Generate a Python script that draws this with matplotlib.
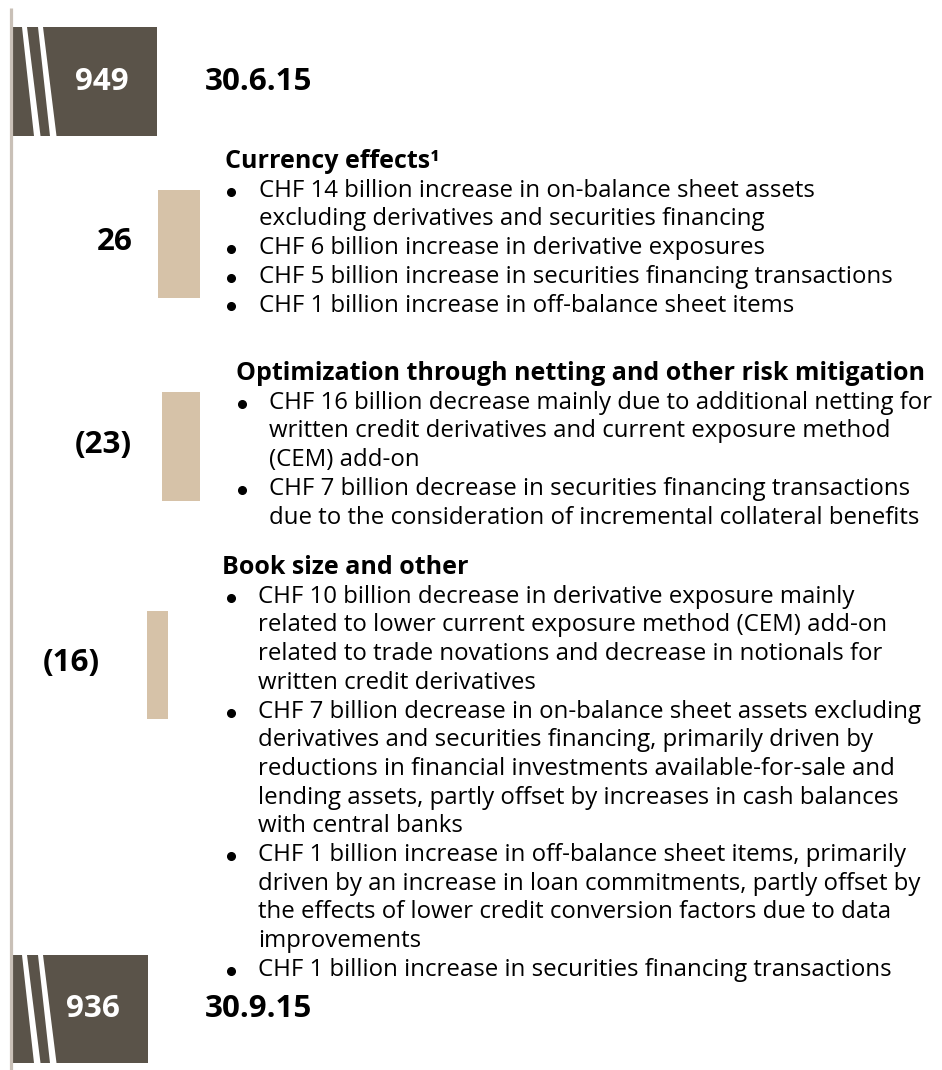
import matplotlib.pyplot as plt
import matplotlib.patches as patches

plt.rcParams['font.family'] = ['Open Sans', 'DejaVu Sans']

# data
totals = [949, 936]
total_dates = ['30.6.15', '30.9.15']
change_values = [26, -23, -16]
headings = ['Currency effects\u00b9',
            'Optimization through netting and other risk mitigation',
            'Book size and other']
bullets = [
    [['CHF 14 billion increase in on-balance sheet assets',
      'excluding derivatives and securities financing'],
     ['CHF 6 billion increase in derivative exposures'],
     ['CHF 5 billion increase in securities financing transactions'],
     ['CHF 1 billion increase in off-balance sheet items']],
    [['CHF 16 billion decrease mainly due to additional netting for',
      'written credit derivatives and current exposure method',
      '(CEM) add-on'],
     ['CHF 7 billion decrease in securities financing transactions',
      'due to the consideration of incremental collateral benefits']],
    [['CHF 10 billion decrease in derivative exposure mainly',
      'related to lower current exposure method (CEM) add-on',
      'related to trade novations and decrease in notionals for',
      'written credit derivatives'],
     ['CHF 7 billion decrease in on-balance sheet assets excluding',
      'derivatives and securities financing, primarily driven by',
      'reductions in financial investments available-for-sale and',
      'lending assets, partly offset by increases in cash balances',
      'with central banks'],
     ['CHF 1 billion increase in off-balance sheet items, primarily',
      'driven by an increase in loan commitments, partly offset by',
      'the effects of lower credit conversion factors due to data',
      'improvements'],
     ['CHF 1 billion increase in securities financing transactions']],
]

# layout (pixels)
box_color = '#5a5349'
bar_color = '#d6c2a8'
line_color = '#c9c0b7'
box_x = [12, 12]
box_w = [145, 136]
box_top = [27, 955]
box_h = [109, 108]
bar_left = [158, 162, 147]
bar_w = [42, 38, 21]
bar_top = [190, 392, 611]
bar_h = [108, 109, 108]
label_x = [115, 103, 71]
head_x = [225, 236, 222]
head_y = [162, 374, 568]
dot_x = [231, 242, 231]
text_x = [259, 269, 258]
pitch = 28.7
body_size = 17.3
head_size = 18.0
big_size = 22.6

fig = plt.figure(figsize=(9.42, 10.70), dpi=100)
ax = fig.add_axes([0, 0, 1, 1])
ax.set_xlim(0, 942)
ax.set_ylim(1070, 0)
ax.axis('off')

# vertical rule on the left
ax.plot([11, 11], [8, 1070], color=line_color, lw=2.3, solid_capstyle='butt')

# total boxes with white slanted stripes
for i, total in enumerate(totals):
    x0, y0, w, h = box_x[i], box_top[i], box_w[i], box_h[i]
    ax.add_patch(patches.Rectangle((x0, y0), w, h, facecolor=box_color, edgecolor='none'))
    for a, b in [(10, 22), (26, 38)]:
        ax.add_patch(patches.Polygon(
            [(x0 + a, y0), (x0 + a + 5, y0), (x0 + b + 6.5, y0 + h), (x0 + b, y0 + h)],
            closed=True, facecolor='white', edgecolor='none'))
    yc = y0 + h / 2
    ax.text(x0 + 90 if i == 0 else x0 + 81, yc, str(total), color='white',
            fontsize=big_size, fontweight='bold', ha='center', va='center')
    ax.text(205, yc, total_dates[i], color='black',
            fontsize=big_size, fontweight='bold', ha='left', va='center')

# change bars
bar_x = [l + w / 2 for l, w in zip(bar_left, bar_w)]
ax.bar(bar_x, bar_h, width=bar_w, bottom=bar_top, color=bar_color, edgecolor='none')
for i, v in enumerate(change_values):
    lab = str(v) if v > 0 else '(%d)' % (-v)
    ax.text(label_x[i], bar_top[i] + bar_h[i] / 2 - 2, lab, fontsize=big_size,
            fontweight='bold', ha='center', va='center')

# explanation text
for s, head in enumerate(headings):
    y = head_y[s]
    ax.text(head_x[s], y, head, fontsize=head_size, fontweight='bold',
            ha='left', va='center')
    for item in bullets[s]:
        for j, line in enumerate(item):
            y += pitch
            if j == 0:
                ax.plot(dot_x[s], y + 1, 'o', color='black', markersize=5.5)
            ax.text(text_x[s], y, line, fontsize=body_size, ha='left', va='center')

fig.savefig('out.png', dpi=100)
